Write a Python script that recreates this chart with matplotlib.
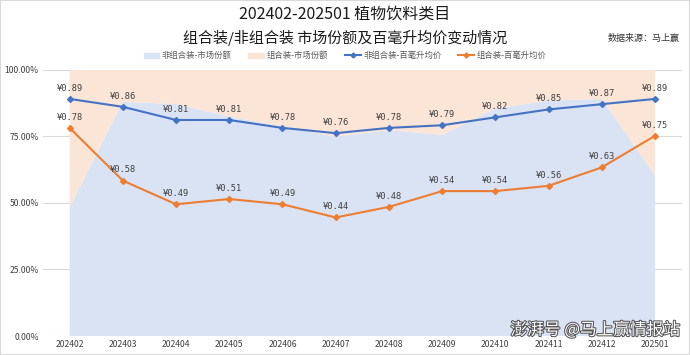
import numpy as np
import matplotlib
matplotlib.use("Agg")
import matplotlib.pyplot as plt
import matplotlib.patheffects as pe
from matplotlib.patches import Patch
from matplotlib.lines import Line2D

plt.rcParams['font.family'] = ['Noto Sans CJK SC', 'DejaVu Sans']

months = ['202402', '202403', '202404', '202405', '202406', '202407',
          '202408', '202409', '202410', '202411', '202412', '202501']
# 非组合装市场份额 (%)，组合装 = 100 - 非组合装
share_single = [48.5, 88.0, 87.2, 82.5, 78.7, 74.9, 77.4, 75.6, 85.5, 88.5, 89.1, 60.5]
share_combo = [100 - v for v in share_single]
# 百毫升均价 (元)
price_single = [0.89, 0.86, 0.81, 0.81, 0.78, 0.76, 0.78, 0.79, 0.82, 0.85, 0.87, 0.89]
price_combo = [0.78, 0.58, 0.49, 0.51, 0.49, 0.44, 0.48, 0.54, 0.54, 0.56, 0.63, 0.75]

c_blue = '#4472C4'
c_orange = '#ED7D31'
c_area_blue = '#DAE3F3'
c_area_orange = '#FBE5D6'

fig = plt.figure(figsize=(6.9, 3.55), dpi=100)
ax = fig.add_axes([0.0623, 0.0535, 0.9255, 0.7495])
x = np.arange(len(months))

ax.stackplot(x, share_single, share_combo, colors=[c_area_blue, c_area_orange], zorder=1)
ax.set_xlim(-0.5, len(months) - 0.5)
ax.set_ylim(0, 100)
ax.set_yticks([0, 25, 50, 75, 100])
ax.set_yticklabels(['0.00%', '25.00%', '50.00%', '75.00%', '100.00%'], fontsize=6.2, color='#404040')
ax.set_xticks(x)
ax.set_xticklabels(months, fontsize=6.2, color='#404040')
ax.tick_params(length=0, pad=3)
ax.grid(axis='y', color='#D9D9D9', linewidth=0.8, zorder=0)
ax.set_axisbelow(True)
for s in ax.spines.values():
    s.set_visible(False)

ax2 = ax.twinx()
ax2.set_ylim(-0.01, 1.0)
ax2.axis('off')
ax2.plot(x, price_single, color=c_blue, linewidth=1.5, marker='D', markersize=3)
ax2.plot(x, price_combo, color=c_orange, linewidth=1.5, marker='D', markersize=3)
for xi, v in zip(x, price_single):
    ax2.annotate(f'¥{v:.2f}', (xi, v), xytext=(0, 4.5), textcoords='offset points',
                 ha='center', va='bottom', fontsize=6.3, color='#404040',
                 family=['DejaVu Sans Mono'])
for xi, v in zip(x, price_combo):
    ax2.annotate(f'¥{v:.2f}', (xi, v), xytext=(0, 4.5), textcoords='offset points',
                 ha='center', va='bottom', fontsize=6.3, color='#404040',
                 family=['DejaVu Sans Mono'])

fig.text(0.5, 0.96, '202402-202501 植物饮料类目', ha='center', va='center', fontsize=11.5, color='#1a1a1a')
fig.text(0.5, 0.893, '组合装/非组合装 市场份额及百毫升均价变动情况', ha='center', va='center',
         fontsize=10.8, color='#1a1a1a')
fig.text(0.985, 0.893, '数据来源：马上赢', ha='right', va='center', fontsize=6.5, color='#333333')

handles = [Patch(color=c_area_blue), Patch(color=c_area_orange),
           Line2D([], [], color=c_blue, marker='D', markersize=2.5, linewidth=1.5),
           Line2D([], [], color=c_orange, marker='D', markersize=2.5, linewidth=1.5)]
labels = ['非组合装-市场份额', '组合装-市场份额', '非组合装-百毫升均价', '组合装-百毫升均价']
fig.legend(handles, labels, loc='center', bbox_to_anchor=(0.5, 0.843), ncol=4, frameon=False,
           fontsize=6.0, handlelength=1.9, handleheight=0.6, handletextpad=0.3,
           columnspacing=2.0, labelcolor='#595959')

fig.text(0.985, 0.07, '澎湃号 @马上赢情报站', ha='right', va='center', fontsize=12,
         color='white', style='italic',
         path_effects=[pe.withStroke(linewidth=1.5, foreground='#555555')])

fig.patches.append(plt.Rectangle((0, 0), 1, 1, transform=fig.transFigure, fill=False,
                                 edgecolor='#D9D9D9', linewidth=1.5))

fig.savefig('out.png', dpi=100)
